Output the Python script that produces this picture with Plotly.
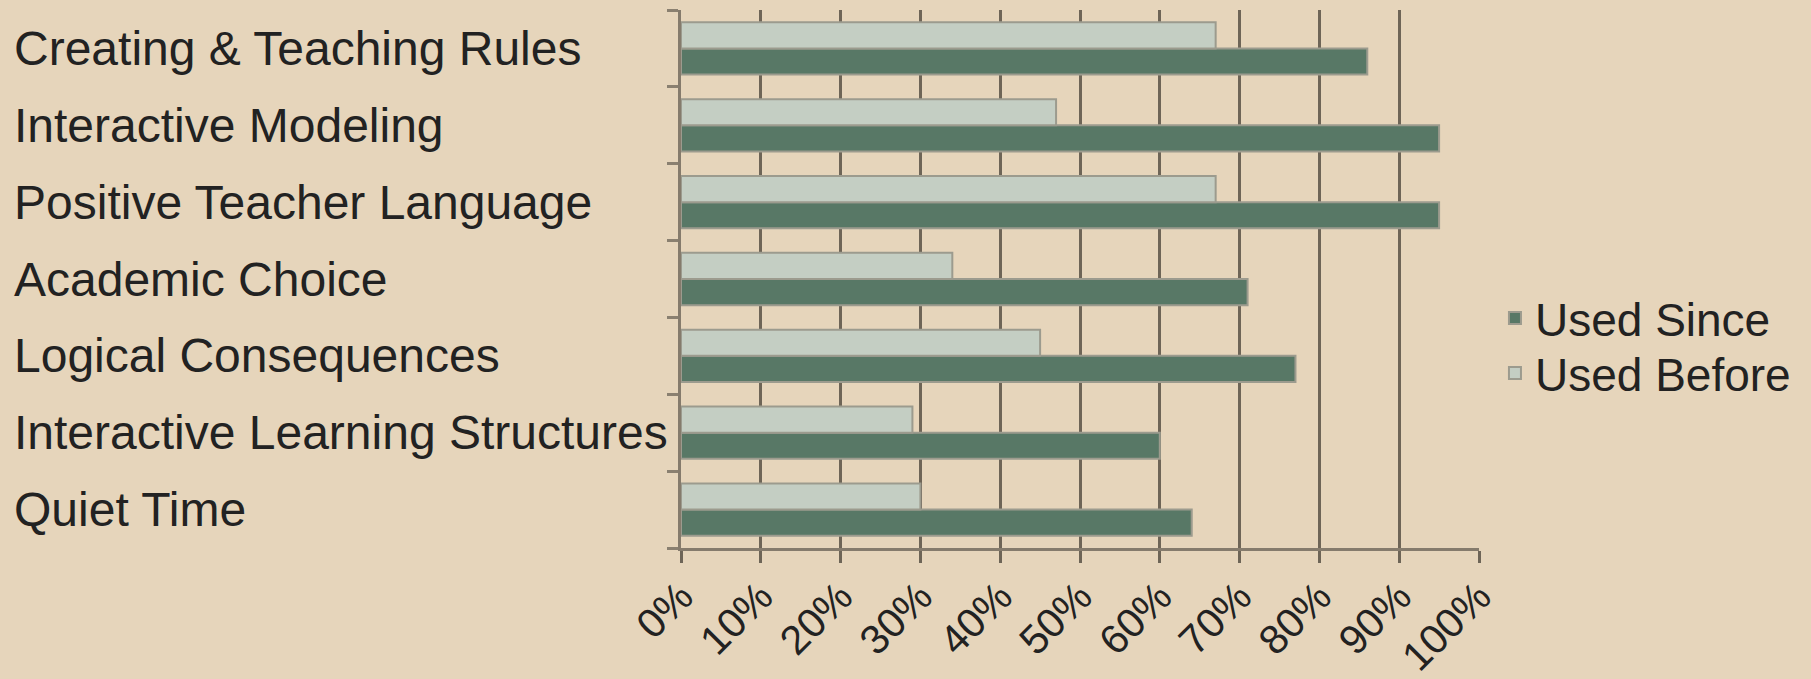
import plotly.graph_objects as go

categories = [
    "Creating & Teaching Rules",
    "Interactive Modeling",
    "Positive Teacher Language",
    "Academic Choice",
    "Logical Consequences",
    "Interactive Learning Structures",
    "Quiet Time",
]
used_since = [86, 95, 95, 71, 77, 60, 64]
used_before = [67, 47, 67, 34, 45, 29, 30]
x_ticks = [0, 10, 20, 30, 40, 50, 60, 70, 80, 90, 100]
x_tick_labels = [f"{v}%" for v in x_ticks]

BG = "#E6D5BB"
DARK = "#587866"
LIGHT = "#C4CEC3"
EDGE = "#9C9B8E"
GRID = "#6E6557"
TEXT = "#222222"
FONT = "Liberation Sans, Arial, sans-serif"

fig = go.Figure()
fig.add_trace(go.Bar(
    name="Used Since", y=categories, x=used_since, orientation="h",
    marker=dict(color=DARK, line=dict(color=EDGE, width=2)),
    legend="legend",
))
fig.add_trace(go.Bar(
    name="Used Before", y=categories, x=used_before, orientation="h",
    marker=dict(color=LIGHT, line=dict(color=EDGE, width=2)),
    legend="legend2",
))

for c in categories:
    fig.add_annotation(
        x=-0.838, xref="paper", y=c, yref="y", text=c, showarrow=False,
        xanchor="left", yanchor="middle",
        font=dict(family=FONT, size=48, color=TEXT),
    )

legend_common = dict(
    x=1.02, xanchor="left", yanchor="middle",
    bgcolor="rgba(0,0,0,0)",
    font=dict(family=FONT, size=46, color=TEXT),
)

fig.update_layout(
    width=1811, height=679,
    margin=dict(l=681, r=332, t=10, b=131, autoexpand=False),
    paper_bgcolor=BG, plot_bgcolor=BG,
    barmode="group", bargap=0.32, bargroupgap=0,
    font=dict(family=FONT, color=TEXT),
    showlegend=True,
    legend=dict(y=1 - (318 - 10) / 538, **legend_common),
    legend2=dict(y=1 - (373 - 10) / 538, **legend_common),
    xaxis=dict(
        range=[0, 100], tickvals=x_ticks, ticktext=x_tick_labels,
        tickangle=-45, tickfont=dict(family=FONT, size=41, color=TEXT),
        ticklabelstandoff=-7,
        showgrid=True, gridcolor=GRID, gridwidth=2.5,
        zeroline=False, showline=True, linecolor="#857B6C", linewidth=3,
        ticks="outside", ticklen=12, tickwidth=2.5, tickcolor=GRID,
        automargin=False, fixedrange=True,
    ),
    yaxis=dict(
        categoryorder="array", categoryarray=categories[::-1],
        showticklabels=False, tickson="boundaries",
        ticks="outside", ticklen=11, tickwidth=3, tickcolor="#8A8070",
        showline=True, linecolor="#857B6C", linewidth=3,
        showgrid=False, zeroline=False, automargin=False, fixedrange=True,
    ),
)

fig.write_html("out.html")
